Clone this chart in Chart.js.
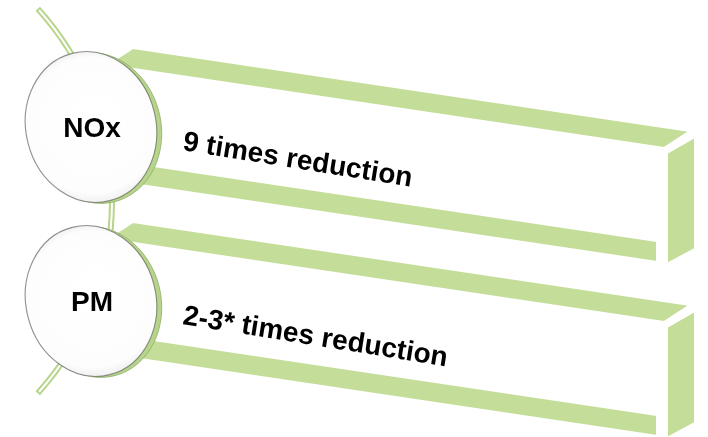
<!DOCTYPE html>
<html>
<head>
<meta charset="utf-8">
<script src="https://cdn.jsdelivr.net/npm/chart.js@4"></script>
<style>
  html, body { margin: 0; padding: 0; background: #fff; }
  #wrap { width: 708px; height: 437px; }
</style>
</head>
<body>
<div id="wrap"><canvas id="diagram"></canvas></div>
<script>
const pollutants = ['NOx', 'PM'];
const reductions = ['9 times reduction', '2-3* times reduction'];

// layout / styling
const BADGE_X = 91;
const GREEN = 'rgb(196, 222, 153)';
const RIM = 'rgb(183, 213, 138)';
const SLOPE = 0.149;
const FONT = 'bold 28px "Liberation Sans", Arial, sans-serif';

function poly(ctx, pts) {
  ctx.beginPath();
  pts.forEach(([x, y], i) => (i ? ctx.lineTo(x, y) : ctx.moveTo(x, y)));
  ctx.closePath();
  ctx.fill();
  ctx.stroke();
}

// slanted 3d box behind each row: top face, right face and the lower strip
function drawBox(ctx, px, cy) {
  const topAt = v => cy + 21 + SLOPE * (v - 664);
  ctx.save();
  ctx.fillStyle = GREEN;
  ctx.strokeStyle = '#fff';
  ctx.lineWidth = 2;
  poly(ctx, [[px(133), cy - 79], [px(690), cy + 4], [px(664), cy + 21], [px(107), cy - 62]]);
  poly(ctx, [[px(667), cy + 26], [px(695), cy + 10], [px(695), cy + 122], [px(667), cy + 137]]);
  poly(ctx, [
    [px(105), topAt(105) + 94], [px(657), topAt(657) + 94],
    [px(657), topAt(657) + 115], [px(105), topAt(105) + 115]
  ]);
  ctx.restore();
}

function drawBadge(ctx, x, y) {
  ctx.save();
  ctx.beginPath();
  ctx.ellipse(x + 5, y + 1, 65, 76, -0.25, 0, Math.PI * 2);
  ctx.fillStyle = RIM;
  ctx.fill();
  ctx.strokeStyle = 'rgba(150, 180, 110, 0.9)';
  ctx.lineWidth = 1;
  ctx.stroke();

  const g = ctx.createRadialGradient(x + 8, y - 12, 10, x, y, 78);
  g.addColorStop(0, '#ffffff');
  g.addColorStop(0.85, '#fdfdfd');
  g.addColorStop(1, '#eeeeee');
  ctx.beginPath();
  ctx.ellipse(x, y, 65, 76, -0.25, 0, Math.PI * 2);
  ctx.fillStyle = g;
  ctx.fill();
  ctx.strokeStyle = 'rgba(105, 110, 100, 0.75)';
  ctx.lineWidth = 1.1;
  ctx.stroke();
  ctx.restore();
}

const listPlugin = {
  id: 'verticalList',
  beforeDatasetsDraw(chart) {
    const { ctx, scales } = chart;
    const px = v => scales.x.getPixelForValue(v);
    const rows = pollutants.map((p, i) => scales.y.getPixelForValue(i));

    // connector arc running through the badges
    const midY = (rows[0] + rows[rows.length - 1]) / 2 - 13;
    ctx.save();
    ctx.beginPath();
    ctx.arc(px(-174), midY, 286, -0.737, 0.737);
    ctx.strokeStyle = RIM;
    ctx.lineWidth = 6;
    ctx.stroke();
    ctx.beginPath();
    ctx.arc(px(-174), midY, 286, -0.73, 0.73);
    ctx.strokeStyle = '#fff';
    ctx.lineWidth = 2;
    ctx.stroke();
    ctx.restore();

    rows.forEach(cy => drawBox(ctx, px, cy));
  },
  afterDatasetsDraw(chart) {
    const { ctx, scales } = chart;
    const px = v => scales.x.getPixelForValue(v);
    const pts = chart.getDatasetMeta(0).data;
    pts.forEach((pt, i) => {
      drawBadge(ctx, pt.x, pt.y);
      ctx.save();
      ctx.fillStyle = '#000';
      ctx.font = FONT;
      ctx.textAlign = 'center';
      ctx.textBaseline = 'middle';
      ctx.fillText(pollutants[i], pt.x + 1, pt.y + 2);
      ctx.restore();

      ctx.save();
      ctx.translate(px(182), pt.y + 23);
      ctx.rotate(0.159);
      ctx.fillStyle = '#000';
      ctx.font = FONT;
      ctx.textAlign = 'left';
      ctx.textBaseline = 'alphabetic';
      ctx.fillText(reductions[i], 0, 0);
      ctx.restore();
    });
  }
};

new Chart(document.getElementById('diagram'), {
  type: 'scatter',
  data: {
    datasets: [{
      data: pollutants.map(p => ({ x: BADGE_X, y: p })),
      pointRadius: 0,
      pointHoverRadius: 0
    }]
  },
  options: {
    responsive: true,
    maintainAspectRatio: false,
    animation: false,
    events: [],
    layout: { padding: { top: 40, bottom: 49, left: 0, right: 0 } },
    scales: {
      x: { type: 'linear', min: 0, max: 708, display: false },
      y: { type: 'category', labels: pollutants, offset: true, display: false }
    },
    plugins: {
      legend: { display: false },
      tooltip: { enabled: false }
    }
  },
  plugins: [listPlugin]
});
</script>
</body>
</html>
